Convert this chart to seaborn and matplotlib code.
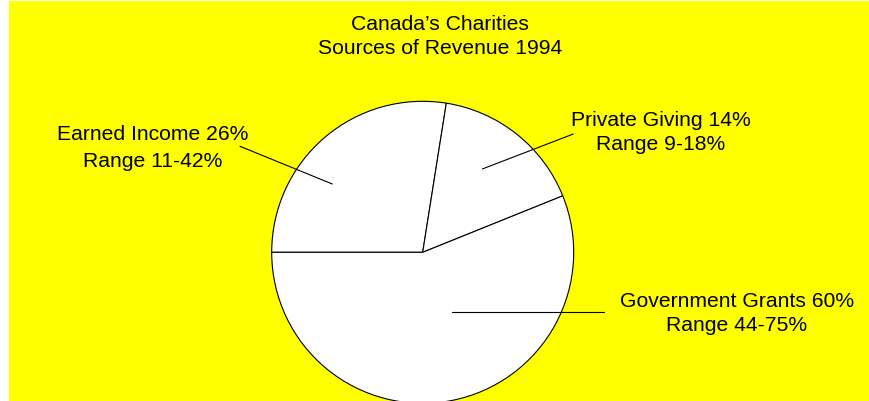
import matplotlib
matplotlib.use("Agg")
import matplotlib.pyplot as plt
import seaborn as sns
from matplotlib.patches import Rectangle

# ---- data ----
categories = ["Earned Income", "Private Giving", "Government Grants"]
shares = [27.5, 16.4, 56.1]          # slice sizes as drawn
label_pct = ["26%", "14%", "60%"]    # stated shares
ranges = ["11-42%", "9-18%", "44-75%"]
title_lines = ["Canada\u2019s Charities", "Sources of Revenue 1994"]

sns.set_theme(style="white")
plt.rcParams['font.family'] = ['Liberation Sans', 'DejaVu Sans']
plt.rcParams['text.color'] = 'black'

W, H = 870, 402
fig = plt.figure(figsize=(W / 100, H / 100), dpi=100, facecolor="white")
ax = fig.add_axes([0, 0, 1, 1])

def Y(py):
    return H - py

# yellow panel
ax.add_patch(Rectangle((9, 0), W - 9, H - 2, facecolor="#FFFF00",
                       edgecolor="none", zorder=0))

cx, cy, r = 422.7, 253.3, 151
ax.pie(shares, startangle=180, counterclock=False, radius=r,
       center=(cx, Y(cy)), colors=["white"] * 3,
       wedgeprops=dict(edgecolor="black", linewidth=0.8), frame=True)

# leader lines (pixel positions)
leaders = [((240, 147.3), (332.3, 185)),
           ((573.3, 135), (482.3, 170)),
           ((452.3, 313.3), (604, 313.3))]
for (x0, y0), (x1, y1) in leaders:
    ax.plot([x0, x1], [Y(y0), Y(y1)], color="black", lw=0.8, zorder=5)

fs = 15.2
label_pos = [(153, 140, 166.7), (661, 126, 150), (737, 306.7, 330.7)]
for cat, pct, rg, (x, b1, b2) in zip(categories, label_pct, ranges, label_pos):
    ax.text(x, Y(b1), f"{cat} {pct}", ha="center", va="baseline",
            fontsize=fs, color="black", zorder=6)
    ax.text(x, Y(b2), f"Range {rg}", ha="center", va="baseline",
            fontsize=fs, color="black", zorder=6)

ax.text(440, Y(30), title_lines[0], ha="center", va="baseline",
        fontsize=fs, color="black")
ax.text(440, Y(54.3), title_lines[1], ha="center", va="baseline",
        fontsize=fs, color="black")

ax.set_xlim(0, W)
ax.set_ylim(0, H)
ax.set_aspect("auto")
ax.axis("off")

fig.savefig("out.png", dpi=100, facecolor="white")
